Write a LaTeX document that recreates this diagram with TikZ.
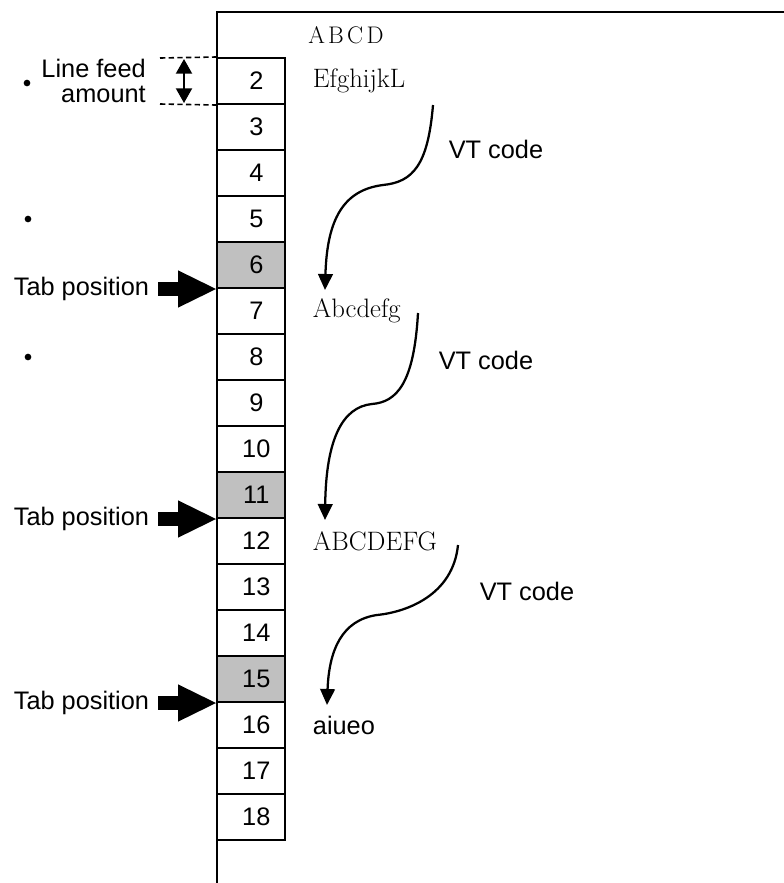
\documentclass[tikz,border=0pt]{standalone}
\usepackage{fontspec}
\setsansfont{Liberation Sans}
\usepackage{tikz}
\usetikzlibrary{arrows.meta,positioning,calc}
\definecolor{tabgray}{RGB}{192,192,192}

\begin{document}
\begin{tikzpicture}[x=0.75pt,y=-0.75pt,
    cell/.style={draw,line width=1.5pt,minimum width=51pt,minimum height=34.5pt,
      inner sep=0pt,font=\fontsize{19}{21}\sffamily,execute at begin node=\hspace*{8pt}},
    sans/.style={font=\fontsize{19}{19}\sffamily,inner sep=0pt},
    serif/.style={font=\fontsize{20}{22}\rmfamily,inner sep=0pt},
    frame/.style={line width=1.5pt},
    vt/.style={line width=1.7pt,-{Triangle[width=11pt,length=12pt]}},
    tabarrow/.style={line width=10.5pt,shorten <=6.75pt,
      -{Triangle[width=28pt,length=28.5pt,line width=0pt]}},
    lfdash/.style={line width=1.2pt,dash pattern=on 4pt off 2.5pt},
    lfarrow/.style={line width=1.5pt,
      {Triangle[width=12pt,length=11pt]}-{Triangle[width=12pt,length=11pt]}},
    dot/.style={circle,fill,inner sep=0pt,minimum size=5pt}]
  \useasboundingbox (0,0) rectangle (784,883);

  % paper
  \draw[frame] (217,883) -- (217,12) -- (784,12);

  % line cells, tab stops shaded
  \foreach \n in {2,...,18} {
    \pgfmathsetmacro\yc{81+46*(\n-2)}
    \pgfmathsetmacro\shade{(\n==6||\n==11||\n==15) ? "tabgray" : "white"}
    \node[cell, fill=\shade] (r\n) at (251,\yc) {\n};
  }

  % printed lines
  \node[serif, font=\fontsize{18}{20}\rmfamily, anchor=west] (abcd) at (308,35)
    {A\kern2.5pt B\kern2.5pt C\kern2.5pt D};
  \node[serif, right=20pt of r2] (t2) {EfghijkL};
  \node[serif, right=20pt of r7] (t7) {Abcdefg};
  \node[serif, right=20pt of r12] (t12) {ABCDEFG};
  \node[sans, right=20pt of r16] (t16) {aiueo};

  % line feed amount
  \node[sans, align=right, anchor=east] (lf) at (146,81) {Line feed\\amount};
  \node[dot] (d2) at (27,83) {};
  \node[dot] (d5) at (28,219) {};
  \node[dot] (d8) at (28,357) {};
  \coordinate (lf1) at (160,58);
  \coordinate (lf2) at (160,104);
  \draw[lfdash] (lf1) -- (r2.north west);
  \draw[lfdash] (lf2) -- (r2.south west);
  \coordinate (lfa) at (184,59);
  \coordinate (lfb) at (184,103);
  \draw[lfarrow] (lfa) -- (lfb);

  % tab positions
  \foreach \n in {6,11,15} {
    \node[sans, left=50pt of r\n.south west] (tab\n) {Tab position};
    \draw[tabarrow] (tab\n) -- (r\n.south west);
  }

  % VT code jumps
  \coordinate (vt1a) at (433,105);
  \coordinate (vt1b) at (383,185);
  \coordinate (vt1c) at (325,290);
  \draw[vt] (vt1a) .. controls +(-5,60) and +(30,-3) .. (vt1b)
    .. controls +(-40,5) and +(2,-70) .. (vt1c);
  \node[sans] (vt1) at (496,149) {VT code};

  \coordinate (vt2a) at (418,313);
  \coordinate (vt2b) at (372,404);
  \coordinate (vt2c) at (325,520);
  \draw[vt] (vt2a) .. controls +(-4,70) and +(25,-2) .. (vt2b)
    .. controls +(-30,3) and +(1,-80) .. (vt2c);
  \node[sans] (vt2) at (486,360) {VT code};

  \coordinate (vt3a) at (458,545);
  \coordinate (vt3b) at (377,615);
  \coordinate (vt3c) at (327,705);
  \draw[vt] (vt3a) .. controls +(-5,50) and +(30,-3) .. (vt3b)
    .. controls +(-35,5) and +(2,-55) .. (vt3c);
  \node[sans] (vt3) at (527,591) {VT code};
\end{tikzpicture}
\end{document}
